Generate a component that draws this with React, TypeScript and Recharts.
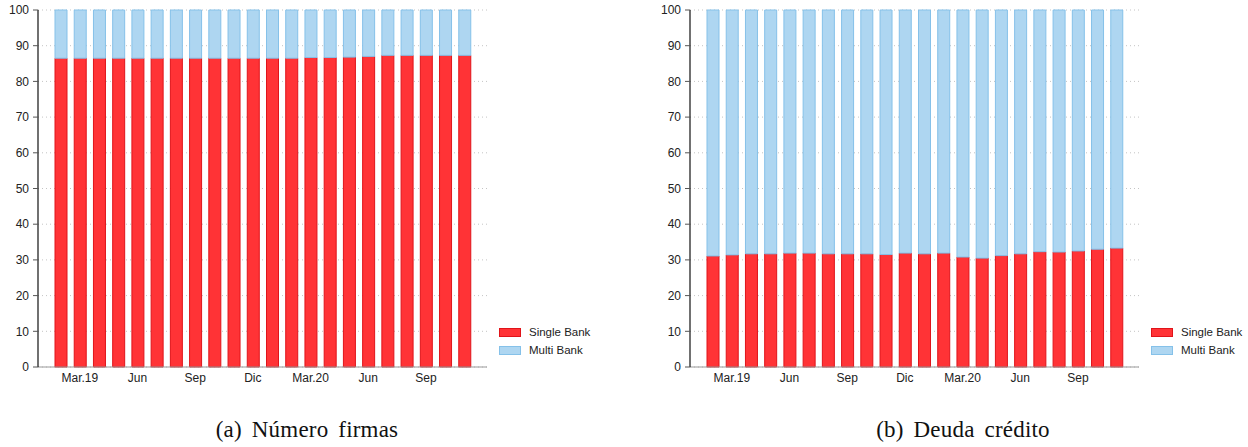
import React from 'react';
import { BarChart, Bar, XAxis, YAxis, CartesianGrid, Legend } from 'recharts';

// Monthly periods, Feb 2019 – Nov 2020
const months = [
  'Feb.19', 'Mar.19', 'Abr.19', 'May.19', 'Jun.19', 'Jul.19', 'Ago.19', 'Sep.19',
  'Oct.19', 'Nov.19', 'Dic.19', 'Ene.20', 'Feb.20', 'Mar.20', 'Abr.20', 'May.20',
  'Jun.20', 'Jul.20', 'Ago.20', 'Sep.20', 'Oct.20', 'Nov.20',
];

// Quarterly ticks and the labels printed under them
const tickMonths = ['Mar.19', 'Jun.19', 'Sep.19', 'Dic.19', 'Mar.20', 'Jun.20', 'Sep.20'];
const tickLabels = ['Mar.19', 'Jun', 'Sep', 'Dic', 'Mar.20', 'Jun', 'Sep'];

const yTicks = [0, 10, 20, 30, 40, 50, 60, 70, 80, 90, 100];

// (a) share of firms (%)
const firmsSingle = [
  86.5, 86.5, 86.5, 86.5, 86.5, 86.5, 86.5, 86.5, 86.5, 86.5, 86.5,
  86.5, 86.5, 86.7, 86.7, 86.8, 87.0, 87.3, 87.3, 87.3, 87.3, 87.3,
];
const firmsMulti = [
  13.5, 13.5, 13.5, 13.5, 13.5, 13.5, 13.5, 13.5, 13.5, 13.5, 13.5,
  13.5, 13.5, 13.3, 13.3, 13.2, 13.0, 12.7, 12.7, 12.7, 12.7, 12.7,
];

// (b) share of credit debt (%)
const debtSingle = [
  31.1, 31.4, 31.7, 31.7, 31.9, 31.9, 31.7, 31.7, 31.7, 31.5, 31.9,
  31.7, 31.9, 30.8, 30.5, 31.2, 31.7, 32.3, 32.2, 32.5, 33.0, 33.3,
];
const debtMulti = [
  68.9, 68.6, 68.3, 68.3, 68.1, 68.1, 68.3, 68.3, 68.3, 68.5, 68.1,
  68.3, 68.1, 69.2, 69.5, 68.8, 68.3, 67.7, 67.8, 67.5, 67.0, 66.7,
];

const SINGLE_FILL = '#FF3336';
const SINGLE_STROKE = '#E0141A';
const MULTI_FILL = '#AED6F1';
const MULTI_STROKE = '#85C1E9';

const SANS = '"Liberation Sans", Arial, sans-serif';
const SERIF = '"Liberation Serif", "Times New Roman", serif';

const legendItems = [
  { name: 'Single Bank', fill: SINGLE_FILL, stroke: SINGLE_STROKE },
  { name: 'Multi Bank', fill: MULTI_FILL, stroke: MULTI_STROKE },
];

const buildRows = (single: number[], multi: number[]) =>
  months.map((m, i) => ({ month: m, single: single[i], multi: multi[i] }));

const LegendBox = () => (
  <div style={{ fontFamily: SANS, fontSize: 11.5, color: '#222' }}>
    {legendItems.map((it) => (
      <div key={it.name} style={{ display: 'flex', alignItems: 'center', height: 18 }}>
        <svg width={22} height={9} style={{ marginRight: 8 }}>
          <rect x={0.5} y={0.5} width={21} height={8} fill={it.fill} stroke={it.stroke} />
        </svg>
        <span>{it.name}</span>
      </div>
    ))}
  </div>
);

const fmtTick = (v: string) => {
  const i = tickMonths.indexOf(v);
  return i >= 0 ? tickLabels[i] : '';
};

function Panel({ single, multi, left }: { single: number[]; multi: number[]; left: number }) {
  const rows = buildRows(single, multi);
  return (
    <div style={{ position: 'absolute', left, top: 0 }}>
      <BarChart
        width={620}
        height={397}
        data={rows}
        margin={{ top: 10, right: 133, bottom: 0, left: 0 }}
        barSize={12}
      >
        <CartesianGrid vertical={false} stroke="#c4c4c4" strokeDasharray="1 3" />
        <XAxis
          dataKey="month"
          ticks={tickMonths}
          tickFormatter={fmtTick}
          interval={0}
          height={30}
          padding={{ left: 13, right: 13 }}
          tickLine={false}
          tickSize={0}
          tickMargin={6}
          axisLine={{ stroke: '#9a9a9a', strokeWidth: 1.2 }}
          tick={{ fontFamily: SANS, fontSize: 12, fill: '#222' }}
        />
        <YAxis
          domain={[0, 100]}
          ticks={yTicks}
          interval={0}
          width={38}
          tickSize={5}
          tickMargin={4}
          axisLine={{ stroke: '#111', strokeWidth: 1.2 }}
          tickLine={{ stroke: '#555' }}
          tick={{ fontFamily: SANS, fontSize: 12, fill: '#222' }}
        />
        <Legend
          layout="vertical"
          align="center"
          verticalAlign="middle"
          wrapperStyle={{ position: 'absolute', left: 499, top: 323, width: 'auto' }}
          content={() => <LegendBox />}
        />
        <Bar
          dataKey="single"
          name="Single Bank"
          stackId="s"
          fill={SINGLE_FILL}
          stroke={SINGLE_STROKE}
          strokeWidth={1}
          isAnimationActive={false}
        />
        <Bar
          dataKey="multi"
          name="Multi Bank"
          stackId="s"
          fill={MULTI_FILL}
          stroke={MULTI_STROKE}
          strokeWidth={1}
          isAnimationActive={false}
        />
      </BarChart>
    </div>
  );
}

const Caption = ({ text, center }: { text: string; center: number }) => (
  <div
    style={{
      position: 'absolute',
      left: center - 200,
      top: 418,
      width: 400,
      textAlign: 'center',
      fontFamily: SERIF,
      fontSize: 23,
      lineHeight: '23px',
      wordSpacing: 4,
      letterSpacing: 0.2,
      color: '#111',
      whiteSpace: 'nowrap',
    }}
  >
    {text}
  </div>
);

export default function App() {
  return (
    <div
      style={{
        position: 'absolute',
        left: 0,
        top: 0,
        width: 1248,
        height: 447,
        background: '#fff',
        overflow: 'hidden',
      }}
    >
      <Panel single={firmsSingle} multi={firmsMulti} left={0} />
      <Panel single={debtSingle} multi={debtMulti} left={652} />
      <Caption text="(a) Número firmas" center={307} />
      <Caption text="(b) Deuda crédito" center={963} />
    </div>
  );
}
